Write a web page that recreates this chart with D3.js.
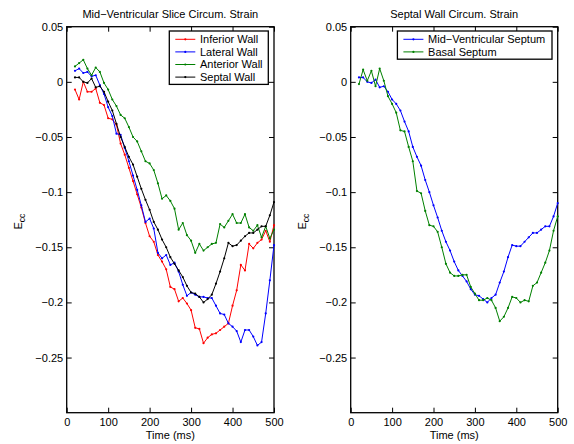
<!DOCTYPE html>
<html>
<head>
<meta charset="utf-8">
<script src="https://cdn.jsdelivr.net/npm/d3@7"></script>
<style>
  body { margin: 0; background: #fff; }
  svg { display: block; }
  text { font-family: "Liberation Sans", Arial, sans-serif; font-size: 11px; fill: #000; }
</style>
</head>
<body>
<svg id="chart" width="574" height="444"></svg>
<script>
// time samples (ms)
const time = [20, 30, 40, 50, 60, 70, 80, 90, 100, 110, 120, 130, 140, 150, 160, 170, 180, 190, 200,
  210, 220, 230, 240, 250, 260, 270, 280, 290, 300, 310, 320, 330, 340, 350, 360, 370, 380, 390, 400,
  410, 420, 430, 440, 450, 460, 470, 480, 490, 500];

// left panel: mid-ventricular slice
const inferiorWall = [-0.007, -0.016, 0.000, -0.009, -0.009, -0.006, -0.019, -0.021, -0.033, -0.034,
  -0.039, -0.056, -0.066, -0.078, -0.090, -0.102, -0.114, -0.128, -0.140, -0.145, -0.157, -0.163,
  -0.170, -0.186, -0.188, -0.199, -0.196, -0.201, -0.207, -0.223, -0.224, -0.237, -0.232, -0.229,
  -0.228, -0.225, -0.222, -0.219, -0.203, -0.189, -0.166, -0.171, -0.147, -0.151, -0.146, -0.143,
  -0.135, -0.145, -0.130];
const lateralWall = [0.010, 0.012, 0.008, 0.009, 0.005, 0.006, -0.003, -0.011, -0.023, -0.031,
  -0.047, -0.048, -0.060, -0.072, -0.085, -0.098, -0.112, -0.127, -0.124, -0.133, -0.155, -0.160,
  -0.157, -0.166, -0.164, -0.172, -0.184, -0.194, -0.191, -0.193, -0.195, -0.195, -0.196, -0.196,
  -0.203, -0.210, -0.211, -0.219, -0.222, -0.226, -0.236, -0.225, -0.225, -0.231, -0.239, -0.236,
  -0.210, -0.180, -0.148];
const anteriorWall = [0.014, 0.017, 0.020, 0.012, 0.006, 0.013, 0.009, -0.001, -0.007, -0.016,
  -0.022, -0.030, -0.033, -0.041, -0.050, -0.054, -0.063, -0.072, -0.074, -0.080, -0.092, -0.106,
  -0.103, -0.108, -0.115, -0.134, -0.128, -0.139, -0.144, -0.155, -0.147, -0.153, -0.150, -0.147,
  -0.146, -0.129, -0.132, -0.126, -0.120, -0.128, -0.128, -0.120, -0.132, -0.135, -0.130, -0.141,
  -0.131, -0.142, -0.134];
const septalWall = [0.004, 0.004, 0.000, -0.001, 0.003, -0.005, -0.004, -0.009, -0.018, -0.026,
  -0.038, -0.050, -0.059, -0.068, -0.075, -0.086, -0.097, -0.107, -0.116, -0.127, -0.134, -0.143,
  -0.150, -0.159, -0.165, -0.171, -0.177, -0.185, -0.191, -0.192, -0.195, -0.200, -0.197, -0.193,
  -0.183, -0.172, -0.160, -0.146, -0.149, -0.148, -0.144, -0.140, -0.137, -0.137, -0.134, -0.131,
  -0.131, -0.121, -0.109];

// right panel: septal wall
const midSeptum = [0.004, 0.004, 0.000, -0.001, 0.002, -0.005, -0.004, -0.009, -0.016, -0.020,
  -0.026, -0.036, -0.045, -0.059, -0.068, -0.076, -0.089, -0.100, -0.112, -0.123, -0.135, -0.145,
  -0.153, -0.163, -0.171, -0.176, -0.181, -0.188, -0.193, -0.194, -0.197, -0.200, -0.196, -0.193,
  -0.182, -0.172, -0.159, -0.148, -0.149, -0.149, -0.145, -0.141, -0.137, -0.137, -0.134, -0.131,
  -0.131, -0.122, -0.110];
const basalSeptum = [-0.002, 0.011, 0.001, 0.010, -0.004, 0.012, 0.001, -0.013, -0.020, -0.028,
  -0.044, -0.045, -0.059, -0.072, -0.099, -0.101, -0.117, -0.130, -0.131, -0.136, -0.150, -0.165,
  -0.173, -0.176, -0.176, -0.175, -0.175, -0.186, -0.192, -0.198, -0.198, -0.196, -0.198, -0.205,
  -0.217, -0.213, -0.205, -0.195, -0.196, -0.200, -0.198, -0.199, -0.185, -0.182, -0.173, -0.164,
  -0.153, -0.135, -0.122];

const xTicks = [0, 100, 200, 300, 400, 500];
const yTicks = [0.05, 0, -0.05, -0.1, -0.15, -0.2, -0.25];

const panels = [
  {
    title: "Mid\u2212Ventricular Slice Circum. Strain",
    left: 66.7, right: 274,
    legendW: 99,
    series: [
      { name: "Inferior Wall", color: "#ff0000", values: inferiorWall },
      { name: "Lateral Wall", color: "#0000ff", values: lateralWall },
      { name: "Anterior Wall", color: "#008000", values: anteriorWall },
      { name: "Septal Wall", color: "#000000", values: septalWall }
    ]
  },
  {
    title: "Septal Wall Circum. Strain",
    left: 350.7, right: 557.7,
    legendW: 154.6,
    series: [
      { name: "Mid\u2212Ventricular Septum", color: "#0000ff", values: midSeptum },
      { name: "Basal Septum", color: "#008000", values: basalSeptum }
    ]
  }
];

const plotTop = 26.7, plotBottom = 412.7;
const svg = d3.select("#chart");
const fmt = d => d === 0 ? "0" : String(d).replace("-", "\u2212");

panels.forEach(p => {
  const x = d3.scaleLinear().domain([0, 500]).range([p.left, p.right]);
  const y = d3.scaleLinear().domain([-0.3, 0.05]).range([plotBottom, plotTop]);
  const g = svg.append("g");

  // axes with inward ticks, mirrored on top/right
  g.append("g").attr("transform", `translate(0,${plotBottom})`)
    .call(d3.axisBottom(x).tickValues(xTicks).tickSize(-5).tickPadding(6).tickFormat(d3.format("d")));
  g.append("g").attr("transform", `translate(0,${plotTop})`)
    .call(d3.axisTop(x).tickValues(xTicks).tickSize(-5).tickFormat(""));
  g.append("g").attr("transform", `translate(${p.left},0)`)
    .call(d3.axisLeft(y).tickValues(yTicks).tickSize(-5).tickPadding(3.5).tickFormat(fmt));
  g.append("g").attr("transform", `translate(${p.right},0)`)
    .call(d3.axisRight(y).tickValues(yTicks).tickSize(-5).tickFormat(""));
  g.selectAll(".domain").remove();
  g.selectAll(".tick line").attr("stroke", "#000");
  g.selectAll(".tick text").attr("font-size", 11).attr("font-family", "Liberation Sans, Arial, sans-serif");

  g.append("rect")
    .attr("x", p.left).attr("y", plotTop)
    .attr("width", p.right - p.left).attr("height", plotBottom - plotTop)
    .attr("fill", "none").attr("stroke", "#000").attr("stroke-width", 1.3);

  const line = d3.line().x((d, i) => x(time[i])).y(d => y(d));
  p.series.forEach(s => {
    g.append("path").datum(s.values)
      .attr("d", line).attr("fill", "none")
      .attr("stroke", s.color).attr("stroke-width", 1);
    g.selectAll(null).data(s.values).enter().append("circle")
      .attr("cx", (d, i) => x(time[i])).attr("cy", d => y(d))
      .attr("r", 1.1).attr("fill", s.color);
  });

  // title
  g.append("text")
    .attr("x", (p.left + p.right) / 2).attr("y", 17.5)
    .attr("text-anchor", "middle").text(p.title);

  // x label
  g.append("text")
    .attr("x", (p.left + p.right) / 2).attr("y", 439)
    .attr("text-anchor", "middle").text("Time (ms)");

  // y label
  const yl = g.append("text")
    .attr("transform", `translate(${p.left - 44.5},${(plotTop + plotBottom) / 2 + 2}) rotate(-90)`)
    .attr("text-anchor", "middle");
  yl.append("tspan").text("E");
  yl.append("tspan").attr("font-size", 8.5).attr("dy", 3).text("cc");

  // legend
  const lx = p.right - 5.7 - p.legendW, ly = 31;
  const lg = g.append("g").attr("transform", `translate(${lx},${ly})`);
  lg.append("rect")
    .attr("width", p.legendW).attr("height", p.series.length * 12.6 + 3)
    .attr("fill", "#fff").attr("stroke", "#000").attr("stroke-width", 1.3);
  p.series.forEach((s, i) => {
    const cy = 8.3 + i * 12.6;
    lg.append("line").attr("x1", 6).attr("x2", 26).attr("y1", cy).attr("y2", cy)
      .attr("stroke", s.color).attr("stroke-width", 1);
    lg.append("circle").attr("cx", 16).attr("cy", cy).attr("r", 1.1).attr("fill", s.color);
    lg.append("text").attr("x", 30.7).attr("y", cy + 3.9).text(s.name);
  });
});
</script>
</body>
</html>
